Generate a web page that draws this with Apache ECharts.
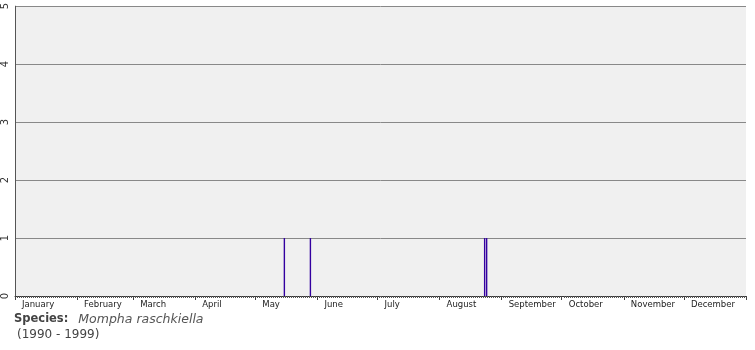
<!DOCTYPE html>
<html>
<head>
<meta charset="utf-8">
<script src="https://cdn.jsdelivr.net/npm/echarts@6/dist/echarts.min.js"></script>
<style>
  html, body { margin: 0; padding: 0; background: #fff; }
  #chart { width: 755px; height: 350px; }
</style>
</head>
<body>
<div id="chart"></div>
<script>
// 月份和每月天数
var monthNames = ['January', 'February', 'March', 'April', 'May', 'June',
  'July', 'August', 'September', 'October', 'November', 'December'];
var monthDays = [31, 28, 31, 30, 31, 30, 31, 31, 30, 31, 30, 31];
// 有记录的日期（一年中的第几天，从0开始）和记录数
var recordDays = [134, 147, 234, 235];
var recordCounts = [1, 1, 1, 1];
var yTicks = [0, 1, 2, 3, 4, 5];

(function () {
  // 每月第一天的索引
  var monthStart = [];
  var d = 0;
  for (var m = 0; m < monthDays.length; m++) {
    monthStart.push(d);
    d += monthDays[m];
  }
  var totalDays = d;
  var days = [];
  var values = [];
  for (var i = 0; i < totalDays; i++) {
    var k = monthStart.indexOf(i);
    days.push(k >= 0 ? monthNames[k] : '');
    values.push(0);
  }
  for (var j = 0; j < recordDays.length; j++) {
    values[recordDays[j]] = recordCounts[j];
  }
  function isMonthStart(idx) {
    return monthStart.indexOf(idx) >= 0;
  }

  var myChart = echarts.init(document.getElementById('chart'));
  var option = {
    animation: false,
    grid: {
      left: 15,
      right: 9,
      top: 5,
      bottom: 54,
      show: true,
      backgroundColor: '#f0f0f0',
      borderWidth: 0
    },
    xAxis: [
      {
        type: 'category',
        data: days,
        position: 'bottom',
        axisLine: { show: true, lineStyle: { color: '#333', width: 1 } },
        axisTick: { show: true, interval: 0, length: 2, lineStyle: { color: '#555' } },
        axisLabel: {
          interval: function (idx) { return isMonthStart(idx); },
          align: 'left',
          margin: 4,
          padding: [0, 0, 0, 6],
          fontFamily: 'DejaVu Sans',
          fontSize: 8.5,
          color: '#222'
        },
        splitLine: { show: false }
      },
      {
        type: 'category',
        data: days,
        position: 'bottom',
        axisLine: { show: false },
        axisTick: {
          show: true,
          interval: function (idx) { return isMonthStart(idx); },
          length: 4,
          lineStyle: { color: '#444' }
        },
        axisLabel: { show: false },
        splitLine: { show: false }
      }
    ],
    yAxis: {
      type: 'value',
      min: yTicks[0],
      max: yTicks[yTicks.length - 1],
      interval: 1,
      axisLine: { show: true, lineStyle: { color: '#555' } },
      axisTick: { show: false },
      axisLabel: {
        rotate: 90,
        margin: 5,
        fontFamily: 'DejaVu Sans',
        fontSize: 10,
        color: '#333'
      },
      splitLine: { lineStyle: { color: '#888', width: 1 } }
    },
    series: [
      {
        name: 'Records',
        type: 'bar',
        xAxisIndex: 0,
        barWidth: 1.4,
        itemStyle: { color: '#3300a0' },
        data: values
      }
    ],
    graphic: [
      {
        type: 'text',
        left: 14,
        top: 313,
        style: {
          text: '{b|Species:}   {i|Mompha raschkiella}',
          rich: {
            b: { fontFamily: 'DejaVu Sans', fontSize: 11.5, fontWeight: 'bold', fill: '#444' },
            i: { fontFamily: 'DejaVu Sans', fontSize: 12.5, fontStyle: 'italic', fill: '#555' }
          }
        }
      },
      {
        type: 'text',
        left: 17,
        top: 329,
        style: {
          text: '(1990 - 1999)',
          fontFamily: 'DejaVu Sans',
          fontSize: 12,
          fill: '#444'
        }
      }
    ]
  };
  myChart.setOption(option);
  window.addEventListener('resize', function () {
    myChart.resize();
  });
})();
</script>
</body>
</html>
